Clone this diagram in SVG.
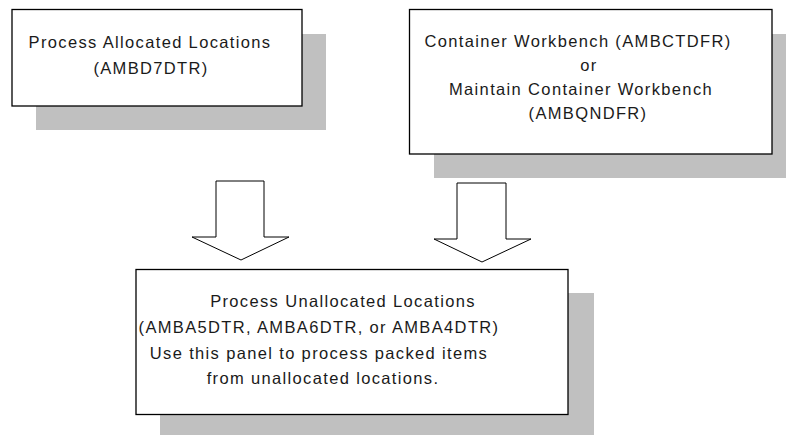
<svg xmlns="http://www.w3.org/2000/svg" width="786" height="435" viewBox="0 0 786 435">
<style>
.shadow{fill:#c0c0c0;stroke:none}
.box{fill:#fff;stroke:#000;stroke-width:1.3}
.arrow{fill:#fff;stroke:#000;stroke-width:1}
text{font-family:"Liberation Sans",Arial,Helvetica,sans-serif;font-size:16.5px;letter-spacing:1.35px;fill:#1a1a1a;text-anchor:middle}
</style>
<rect width="786" height="435" fill="#fff"/>
<g id="node-allocated">
<rect class="shadow" x="36" y="34" width="290" height="96"/>
<rect class="box" x="12" y="9.5" width="290" height="96.5"/>
<text x="150" y="47.5">Process Allocated Locations</text>
<text x="151" y="73.5">(AMBD7DTR)</text>
</g>
<g id="node-workbench">
<rect class="shadow" x="434" y="34" width="352" height="144"/>
<rect class="box" x="409.5" y="9.5" width="362.5" height="144.5"/>
<text x="578" y="47">Container Workbench (AMBCTDFR)</text>
<text x="589" y="71">or</text>
<text x="581" y="95">Maintain Container Workbench</text>
<text x="588" y="119">(AMBQNDFR)</text>
</g>
<g id="connectors">
<polygon class="arrow" points="216,181 264,181 264,237 289,237 241,260 192,237 216,237"/>
<polygon class="arrow" points="457,183 506,183 506,239 531,239 482,262 434,239 457,239"/>
</g>
<g id="node-unallocated">
<rect class="shadow" x="160" y="293" width="434" height="142"/>
<rect class="box" x="136" y="269.5" width="432" height="145"/>
<text x="343" y="306.5">Process Unallocated Locations</text>
<text x="319" y="332.5">(AMBA5DTR, AMBA6DTR, or AMBA4DTR)</text>
<text x="319" y="358.5">Use this panel to process packed items</text>
<text x="323" y="384">from unallocated locations.</text>
</g>
</svg>
